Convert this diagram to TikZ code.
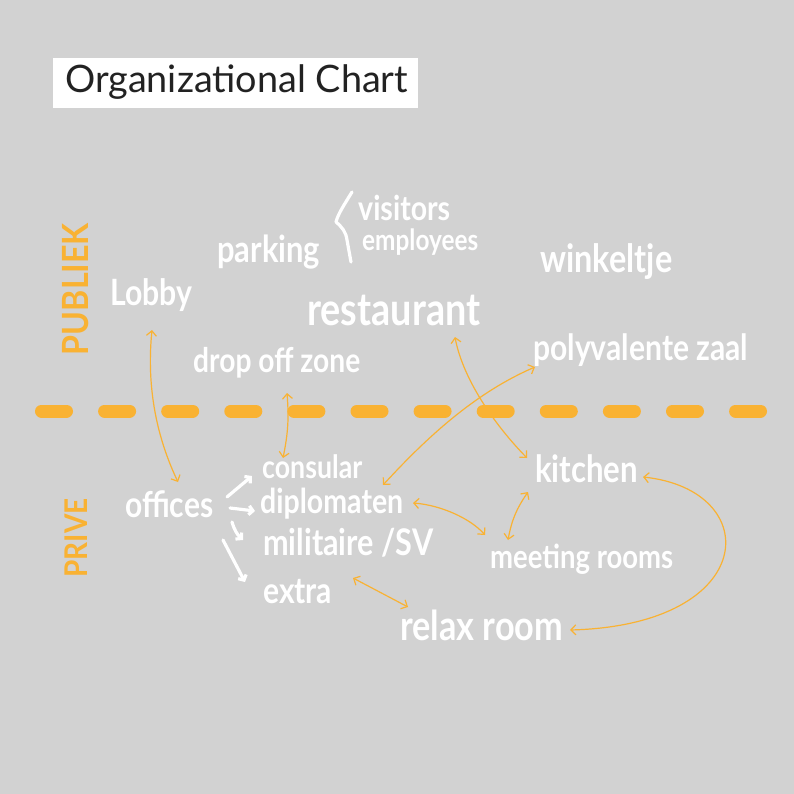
\documentclass[tikz,border=0pt]{standalone}
\usepackage{fontspec}
\setmainfont{Lato}
\usetikzlibrary{arrows.meta}
\definecolor{bg}{RGB}{210,210,210}
\definecolor{org}{RGB}{249,178,51}
\definecolor{ink}{RGB}{34,34,34}
\newcommand{\hw}[2]{\scalebox{1}[1.2]{\resizebox{#1}{!}{#2}}}
\newcommand{\tw}[2]{\resizebox{#1}{!}{#2}}
\begin{document}
\begin{tikzpicture}[x=1pt,y=-1pt,
  lbl/.style={text=white, inner sep=0pt, anchor=base west, font=\bfseries},
  oarr/.style={draw=org, line width=1.2pt, {Straight Barb[length=5pt,width=10pt]}-{Straight Barb[length=5pt,width=10pt]}},
  warr/.style={draw=white, line width=3.2pt, line cap=round, -{Straight Barb[length=4pt,width=9pt]}},
  side/.style={text=org, inner sep=0pt, rotate=90, font=\bfseries}
]
\fill[bg] (0,0) rectangle (794,794);
\useasboundingbox (0,0) rectangle (794,794);
% title
\fill[white] (53,58) rectangle (418,108);
\node[text=ink, inner sep=0pt, anchor=base west] (title) at (65,93) {\tw{343pt}{Organizational Chart}};
% divider
\draw[org, line width=13pt, line cap=round, dash pattern=on 25pt off 38.1pt] (41.5,411) -- (760.5,411);
% side labels
\node[side] (publiek) at (76,289) {\scalebox{1}[1.12]{\tw{132pt}{PUBLIEK}}};
\node[side] (prive) at (76,538) {\scalebox{1}[1.12]{\tw{79pt}{PRIVE}}};
% public labels
\node[lbl] (lobby) at (110,305) {\hw{82pt}{Lobby}};
\node[lbl] (parking) at (217,262) {\hw{103pt}{parking}};
\node[lbl] (visitors) at (358,220) {\hw{92pt}{visitors}};
\node[lbl] (employees) at (362,250) {\hw{116pt}{employees}};
\node[lbl] (winkeltje) at (540,272) {\hw{132pt}{winkeltje}};
\node[lbl] (restaurant) at (307,325) {\hw{173pt}{restaurant}};
\node[lbl] (dropoff) at (193,372) {\hw{167pt}{drop off zone}};
\node[lbl] (polyvalente) at (533,360) {\hw{215pt}{polyvalente zaal}};
% private labels
\node[lbl] (offices) at (125,517) {\hw{88pt}{offices}};
\node[lbl] (consular) at (262,478) {\hw{100pt}{consular}};
\node[lbl] (diplomaten) at (260,513) {\hw{143pt}{diplomaten}};
\node[lbl] (militaire) at (263,555) {\hw{170pt}{militaire /SV}};
\node[lbl] (extra) at (263,603) {\hw{69pt}{extra}};
\node[lbl] (kitchen) at (535,482) {\hw{103pt}{kitchen}};
\node[lbl] (meeting) at (490,568) {\hw{183pt}{meeting rooms}};
\node[lbl] (relax) at (400,640) {\hw{163pt}{relax room}};
% brace
\draw[white, line width=3.2pt, line cap=round, line join=round]
  (352,192) .. controls (344,205) and (338,214) .. (336,222)
  .. controls (342,227) and (346,232) .. (347,240) -- (351,262);
% white arrows from offices
\draw[warr] ([shift={(102,-20)}]offices.base west) -- ([shift={(-10,-2)}]consular.base west);
\draw[warr] ([shift={(105,-9)}]offices.base west) -- ([shift={(-5,-2)}]diplomaten.base west);
\draw[warr] ([shift={(107,5)}]offices.base west) to[bend right=15] ([shift={(-20,-15)}]militaire.base west);
\draw[warr] ([shift={(98,23)}]offices.base west) -- ([shift={(-18,-21)}]extra.base west);
% orange connectors
\draw[oarr] ([shift={(42,25)}]lobby.base west) .. controls (146,390) and (158,440) .. ([shift={(53,-35)}]offices.base west);
\draw[oarr] ([shift={(94,21)}]dropoff.base west) to[bend left=8] ([shift={(21,-20)}]consular.base west);
\draw[oarr] ([shift={(148,12)}]restaurant.base west) .. controls (462,375) and (490,420) .. ([shift={(-8,-24)}]kitchen.base west);
\draw[oarr] ([shift={(123,-28)}]diplomaten.base west) .. controls (420,445) and (470,395) .. ([shift={(2,7)}]polyvalente.base west);
\draw[oarr] ([shift={(153,-10)}]diplomaten.base west) .. controls (440,505) and (470,518) .. ([shift={(-5,-33)}]meeting.base west);
\draw[oarr] ([shift={(-7,10)}]kitchen.base west) to[bend right=12] ([shift={(18,-28)}]meeting.base west);
\draw[oarr] ([shift={(108,-5)}]kitchen.base west) .. controls (765,490) and (760,625) .. ([shift={(170,-10)}]relax.base west);
\draw[oarr] ([shift={(90,-25)}]extra.base west) -- ([shift={(8,-33)}]relax.base west);
\end{tikzpicture}
\end{document}
